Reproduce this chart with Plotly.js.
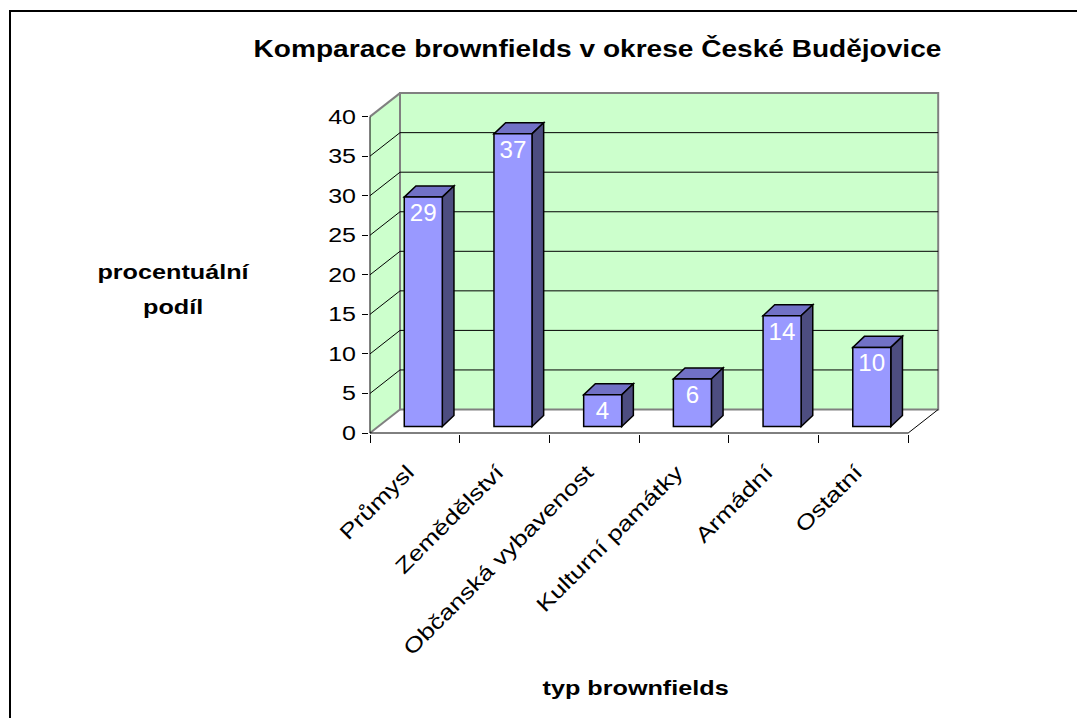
<!DOCTYPE html>
<html>
<head>
<meta charset="utf-8">
<script src="https://cdn.plot.ly/plotly-3.0.1.min.js"></script>
<style>
  html, body { margin: 0; padding: 0; background: #ffffff; }
  #chart { width: 1077px; height: 718px; }
</style>
</head>
<body>
<div id="chart"></div>
<script>
// ---- data ----
const categories = ['Průmysl', 'Zemědělství', 'Občanská vybavenost', 'Kulturní památky', 'Armádní', 'Ostatní'];
const values = [29, 37, 4, 6, 14, 10];
const yTickValues = [0, 5, 10, 15, 20, 25, 30, 35, 40];
const chartTitle = 'Komparace brownfields v okrese České Budějovice';
const yTitleLines = ['procentuální', 'podíl'];
const xTitle = 'typ brownfields';

// ---- geometry / style ----
const W = 1077, H = 718;
const M = { l: 369, r: 137, t: 91, b: 284 };
const PW = W - M.l - M.r, PH = H - M.t - M.b;
const Y_MAX = 40;
const X_RANGE = [-0.5 - 1 / 89.7, -0.5 + (PW - 1) / 89.7];
const Y_RANGE = [-1 / 7.91, -1 / 7.91 + PH / 7.91];
const DX = 30 / 89.7, DY = 23.5 / 7.91;        // depth of the floor / walls
const BAR_W = 0.424, BAR_OFF = -0.118, BAR_BASE = 0.82;
const BDX = 0.13, BDY = 1.4;                    // bar depth
const WALL = '#CCFFCC', EDGE = '#808080';
const FRONT = '#9999FF', TOP = '#7171C6', SIDE = '#4D4D80';
const FONT = 'Liberation Sans, Arial, sans-serif';

const n = categories.length;
const xL = -0.5, xR = n - 0.5;

function line(x0, y0, x1, y1, color, width) {
  return { type: 'line', xref: 'x', yref: 'y', x0, y0, x1, y1, layer: 'below',
           line: { color, width } };
}
function poly(pts, fill, lineColor, width) {
  const d = 'M ' + pts.map(p => p[0] + ',' + p[1]).join(' L ') + ' Z';
  return { type: 'path', xref: 'x', yref: 'y', path: d, layer: 'below', fillcolor: fill,
           line: { color: lineColor || 'rgba(0,0,0,0)', width: width || 0 } };
}

const shapes = [];
// side wall and back wall
shapes.push(poly([[xL, 0], [xL, Y_MAX], [xL + DX, Y_MAX + DY], [xL + DX, DY]], WALL));
shapes.push({ type: 'rect', xref: 'x', yref: 'y', x0: xL + DX, x1: xR + DX, y0: DY, y1: Y_MAX + DY,
              layer: 'below', fillcolor: WALL, line: { color: EDGE, width: 2 } });
// gridlines
yTickValues.forEach(v => {
  if (v > 0 && v < Y_MAX) {
    shapes.push(line(xL, v, xL + DX, v + DY, '#000000', 1));
    shapes.push(line(xL + DX, v + DY, xR + DX, v + DY, '#000000', 1));
  }
});
// edges
shapes.push(line(xL, Y_MAX, xL + DX, Y_MAX + DY, EDGE, 2));
shapes.push(line(xL, 0, xL + DX, DY, EDGE, 2));
shapes.push(line(xR, 0, xR + DX, DY, '#000000', 1));
shapes.push(line(xL, 0, xR, 0, '#000000', 1));
shapes.push(line(xL, 0, xL, Y_MAX, '#000000', 1));
// bar top and side faces, derived from the data
values.forEach((v, i) => {
  const x0 = i + BAR_OFF, x1 = x0 + BAR_W, y0 = BAR_BASE, y1 = BAR_BASE + v;
  shapes.push(poly([[x0, y1], [x1, y1], [x1 + BDX, y1 + BDY], [x0 + BDX, y1 + BDY]], TOP, '#000000', 1.5));
  shapes.push(poly([[x1, y0], [x1, y1], [x1 + BDX, y1 + BDY], [x1 + BDX, y0 + BDY]], SIDE, '#000000', 1.5));
});
// outer frame (paper)
const px2x = px => (px - M.l) / PW;
const px2y = py => (H - M.b - py) / PH;
shapes.push({ type: 'rect', xref: 'paper', yref: 'paper', x0: px2x(10), x1: px2x(1090), y0: px2y(11), y1: px2y(730),
              line: { color: '#000000', width: 2 }, fillcolor: 'rgba(0,0,0,0)' });

const trace = {
  type: 'bar', x: categories, y: values, base: BAR_BASE, width: BAR_W, offset: BAR_OFF,
  marker: { color: FRONT, line: { color: '#000000', width: 1.5 } },
  text: values.map(String), textposition: 'inside', insidetextanchor: 'end', textangle: 0,
  constraintext: 'none', cliponaxis: false,
  textfont: { family: FONT, size: 23, color: '#ffffff' },
  hoverinfo: 'none'
};

const layout = {
  width: W, height: H, margin: M, showlegend: false,
  paper_bgcolor: '#ffffff', plot_bgcolor: 'rgba(0,0,0,0)',
  font: { family: FONT, color: '#000000' },
  title: { text: '<b>' + chartTitle + '</b>', font: { family: FONT, size: 23, color: '#000' },
           xref: 'container', x: 597.5 / W, xanchor: 'center', yref: 'container', y: 1 - 49 / H, yanchor: 'middle' },
  xaxis: { type: 'category', range: X_RANGE, tickson: 'boundaries', ticks: 'outside', ticklen: 8,
           tickcolor: '#000', tickwidth: 1, showline: false, showgrid: false, zeroline: false,
           tickangle: -45, tickfont: { family: FONT, size: 21, color: '#000' },
           ticklabelstandoff: 21, ticklabelshift: -7, fixedrange: true },
  yaxis: { range: Y_RANGE, tickmode: 'array', tickvals: yTickValues, ticktext: yTickValues.map(String),
           ticks: 'outside', ticklen: 6, tickcolor: '#000', tickwidth: 1, showline: false, showgrid: false,
           zeroline: false, tickfont: { family: FONT, size: 20, color: '#000' }, ticklabelstandoff: 2, fixedrange: true },
  shapes: shapes,
  annotations: [
    { xref: 'paper', yref: 'paper', x: px2x(173), y: px2y(271), xanchor: 'center', yanchor: 'middle',
      text: '<b>' + yTitleLines[0] + '</b>', showarrow: false, font: { family: FONT, size: 21, color: '#000' } },
    { xref: 'paper', yref: 'paper', x: px2x(173), y: px2y(306), xanchor: 'center', yanchor: 'middle',
      text: '<b>' + yTitleLines[1] + '</b>', showarrow: false, font: { family: FONT, size: 21, color: '#000' } },
    { xref: 'paper', yref: 'paper', x: px2x(635), y: px2y(687), xanchor: 'center', yanchor: 'middle',
      text: '<b>' + xTitle + '</b>', showarrow: false, font: { family: FONT, size: 21, color: '#000' } }
  ]
};

// horizontal glyph stretch, as in the reference rendering
function stretch(selector, s) {
  document.querySelectorAll(selector).forEach(t => {
    const lines = t.querySelectorAll('tspan.line');
    const targets = lines.length ? Array.from(lines) : [t];
    targets.forEach(el => {
      const len = el.getComputedTextLength();
      if (len > 0) {
        el.setAttribute('textLength', (len * s).toFixed(2));
        el.setAttribute('lengthAdjust', 'spacingAndGlyphs');
      }
    });
  });
}

Plotly.newPlot('chart', [trace], layout, { staticPlot: true }).then(() => {
  stretch('.gtitle', 1.22);
  stretch('.annotation-text', 1.2);
  stretch('.xtick text', 1.25);
  stretch('.ytick text', 1.25);
  stretch('.bartext', 1.05);
});
</script>
</body>
</html>
